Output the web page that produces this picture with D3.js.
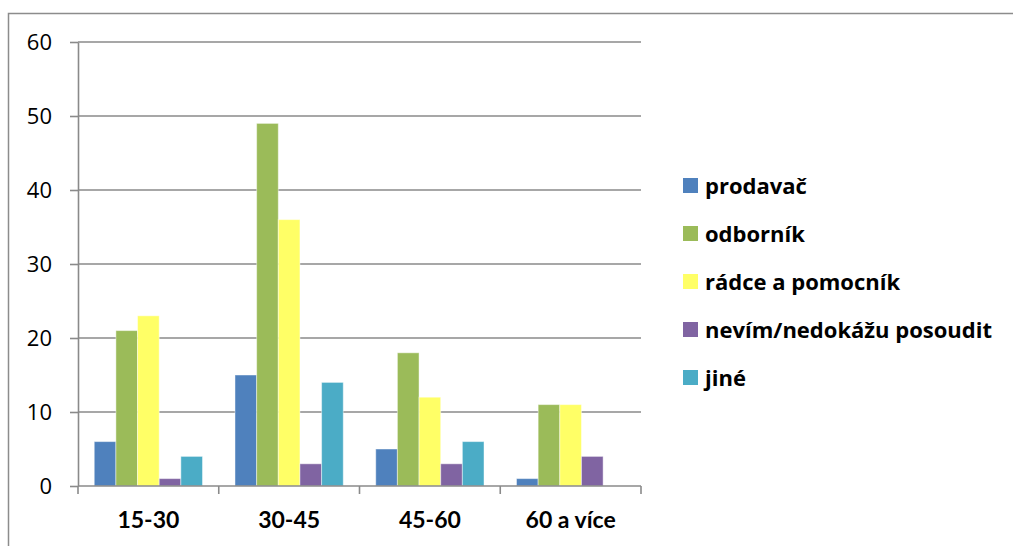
<!DOCTYPE html>
<html>
<head>
<meta charset="utf-8">
<script src="https://cdn.jsdelivr.net/npm/d3@7"></script>
<style>
  html, body { margin: 0; padding: 0; background: #fff; }
  svg { display: block; }
</style>
</head>
<body>
<svg id="chart" width="1013" height="546"></svg>
<script>
// Age groups along the x axis
const categories = ["15-30", "30-45", "45-60", "60 a více"];

// Answer series, one value per age group
const seriesNames = ["prodavač", "odborník", "rádce a pomocník", "nevím/nedokážu posoudit", "jiné"];
const prodavac   = [6, 15, 5, 1];
const odbornik   = [21, 49, 18, 11];
const radce      = [23, 36, 12, 11];
const nevim      = [1, 3, 3, 4];
const jine       = [4, 14, 6, 0];
const seriesValues = [prodavac, odbornik, radce, nevim, jine];
const seriesColors = ["#4F81BD", "#9BBB59", "#FFFF66", "#8064A2", "#4BACC6"];

const yTicks = [0, 10, 20, 30, 40, 50, 60];

const svg = d3.select("#chart");
const fontAxis = "'Open Sans', sans-serif";
const fontCat = "Lato, 'Open Sans', sans-serif";
const fontLegend = "'Open Sans', sans-serif";

// Outer chart frame
svg.append("rect")
  .attr("x", 8.5).attr("y", 13.5)
  .attr("width", 1010).attr("height", 540)
  .attr("fill", "none").attr("stroke", "#8c8c8c").attr("stroke-width", 1.5);

const plot = { left: 78, right: 641, top: 42, bottom: 486 };

const x0 = d3.scaleBand()
  .domain(categories)
  .range([plot.left, plot.right])
  .paddingInner(0).paddingOuter(0);

// 150% gap between groups: each group is 6.5 bar widths wide
const groupPad = 0.75 / 6.5;
const x1 = d3.scaleBand()
  .domain(d3.range(seriesNames.length))
  .range([x0.bandwidth() * groupPad, x0.bandwidth() * (1 - groupPad)]);

const y = d3.scaleLinear().domain([0, 60]).range([plot.bottom, plot.top]);

// Horizontal gridlines
svg.append("g")
  .selectAll("line")
  .data(yTicks.filter(t => t > 0))
  .join("line")
  .attr("x1", plot.left).attr("x2", plot.right)
  .attr("y1", d => y(d)).attr("y2", d => y(d))
  .attr("stroke", "#8a8a8a").attr("stroke-width", 1.6);

// Y axis with outward ticks
const yAxis = svg.append("g")
  .attr("transform", `translate(${plot.left},0)`)
  .call(d3.axisLeft(y).tickValues(yTicks).tickSize(8).tickSizeOuter(0).tickPadding(18));
yAxis.select(".domain").attr("stroke", "#8a8a8a").attr("stroke-width", 1.6);
yAxis.selectAll(".tick line").attr("stroke", "#8a8a8a").attr("stroke-width", 1.6);
yAxis.selectAll(".tick text")
  .attr("font-family", fontAxis).attr("font-size", 22).attr("fill", "#000");

// Bars
const groups = svg.append("g")
  .selectAll("g")
  .data(categories)
  .join("g")
  .attr("transform", d => `translate(${x0(d)},0)`);

groups.selectAll("rect")
  .data((c, ci) => seriesValues.map((vals, si) => ({ si, v: vals[ci] })))
  .join("rect")
  .attr("x", d => x1(d.si))
  .attr("width", x1.bandwidth())
  .attr("y", d => y(d.v))
  .attr("height", d => y(0) - y(d.v))
  .attr("fill", d => seriesColors[d.si])
  .attr("stroke", "rgba(255,255,255,0.45)")
  .attr("stroke-width", 1);

// X axis with tick marks between groups
const xAxisG = svg.append("g").attr("transform", `translate(0,${plot.bottom})`);
xAxisG.append("line")
  .attr("x1", plot.left).attr("x2", plot.right)
  .attr("stroke", "#8a8a8a").attr("stroke-width", 1.6);
const bounds = categories.map(c => x0(c)).concat([plot.right]);
xAxisG.selectAll("line.tk")
  .data(bounds)
  .join("line")
  .attr("class", "tk")
  .attr("x1", d => d).attr("x2", d => d)
  .attr("y1", 0).attr("y2", 8)
  .attr("stroke", "#8a8a8a").attr("stroke-width", 1.6);
xAxisG.selectAll("text")
  .data(categories)
  .join("text")
  .attr("x", d => x0(d) + x0.bandwidth() / 2)
  .attr("y", 42)
  .attr("text-anchor", "middle")
  .attr("font-family", fontCat).attr("font-weight", "bold").attr("font-size", 23)
  .text(d => d);

// Legend
const legend = svg.append("g").attr("transform", "translate(683,186)");
const item = legend.selectAll("g")
  .data(seriesNames)
  .join("g")
  .attr("transform", (d, i) => `translate(0,${i * 48})`);
item.append("rect")
  .attr("x", 0).attr("y", -8).attr("width", 15).attr("height", 15)
  .attr("fill", (d, i) => seriesColors[i]);
item.append("text")
  .attr("x", 22).attr("y", 0).attr("dy", "0.35em")
  .attr("font-family", fontLegend).attr("font-weight", "bold").attr("font-size", 22)
  .text(d => d);
</script>
</body>
</html>
